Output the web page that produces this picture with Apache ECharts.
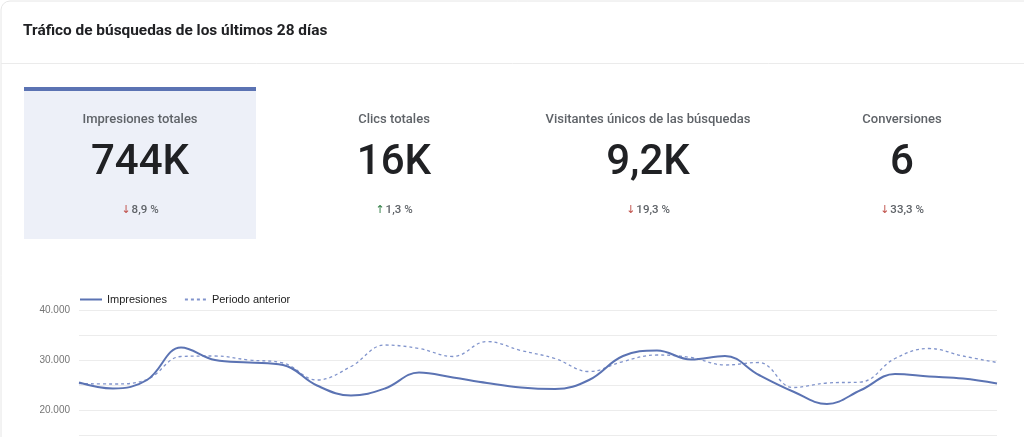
<!DOCTYPE html>
<html><head><meta charset="utf-8">
<script src="https://cdn.jsdelivr.net/npm/echarts@6/dist/echarts.min.js"></script>
<style>html,body{margin:0;padding:0;overflow:hidden;background:#fff}#c{width:1024px;height:540px}</style>
</head><body><div id="c"></div>
<script>
const title = 'Tráfico de búsquedas de los últimos 28 días';
const kpiLabels = ['Impresiones totales', 'Clics totales', 'Visitantes únicos de las búsquedas', 'Conversiones'];
const kpiValues = ['744K', '16K', '9,2K', '6'];
const kpiChanges = ['8,9 %', '1,3 %', '19,3 %', '33,3 %'];
const kpiDirections = ['down', 'up', 'down', 'down'];
const days = ['Día 1','Día 2','Día 3','Día 4','Día 5','Día 6','Día 7','Día 8','Día 9','Día 10','Día 11','Día 12','Día 13','Día 14',
              'Día 15','Día 16','Día 17','Día 18','Día 19','Día 20','Día 21','Día 22','Día 23','Día 24','Día 25','Día 26','Día 27','Día 28'];
const impresiones = [25500, 24300, 26000, 32500, 30000, 29500, 29000, 24900, 22900, 24300, 27500, 26500, 25400, 24500,
                     24200, 26000, 30800, 31900, 30100, 30800, 27000, 23700, 21200, 24000, 27200, 26700, 26300, 25300];
const periodoAnterior = [25300, 25200, 26100, 30700, 30800, 30000, 29400, 26000, 28700, 33000, 32300, 30700, 33700, 31900,
                         30300, 27700, 29700, 31000, 30500, 29000, 29500, 24500, 25400, 25600, 30300, 32300, 30800, 29500];
const yTicks = [0, 10000, 20000, 30000, 40000];

const FONT = 'Roboto, "Noto Sans", sans-serif';
const BLUE = '#5b73b3';

function fmt(v) {
  return String(v).replace(/\B(?=(\d{3})+(?!\d))/g, '.');
}

const graphics = [
  { type: 'rect', shape: { x: 1, y: 1, width: 1100, height: 700, r: 9 }, style: { fill: '#fff', stroke: '#e6e6e6', lineWidth: 1 }, z: -10 },
  { type: 'line', shape: { x1: 1, y1: 63.5, x2: 1024, y2: 63.5 }, style: { stroke: '#ebebeb', lineWidth: 1 }, z: -9 },
  { type: 'text', style: { text: title, x: 23, y: 31, textVerticalAlign: 'middle', font: 'bold 15.4px ' + FONT, fill: '#202124' } }
];

kpiLabels.forEach((lab, i) => {
  const x0 = 24 + 254 * i;
  const cx = x0 + 116;
  if (i === 0) {
    graphics.push({ type: 'rect', shape: { x: x0, y: 87, width: 232, height: 152 }, style: { fill: '#edf0f8' }, z: -5 });
    graphics.push({ type: 'rect', shape: { x: x0, y: 87, width: 232, height: 4 }, style: { fill: BLUE }, z: -4 });
  }
  graphics.push({ type: 'text', style: { text: lab, x: cx, y: 119.5, textAlign: 'center', textVerticalAlign: 'middle', font: '500 13px ' + FONT, fill: '#5f6368' } });
  graphics.push({ type: 'text', style: { text: kpiValues[i], x: cx, y: 163, textAlign: 'center', textVerticalAlign: 'middle', font: '500 42px ' + FONT, fill: '#202124' } });
  const up = kpiDirections[i] === 'up';
  graphics.push({ type: 'text', style: {
    text: '{a|' + (up ? '↑' : '↓') + '}{b|' + kpiChanges[i] + '}',
    x: cx, y: 210, textAlign: 'center', textVerticalAlign: 'middle',
    rich: {
      a: { fill: up ? '#2e7d43' : '#c0504a', fontSize: 11, fontFamily: '"DejaVu Sans", sans-serif', padding: [0, 1, 0, 0] },
      b: { fill: '#5f6368', fontSize: 11.5, fontFamily: FONT, fontWeight: 500 }
    }
  } });
});

const chart = echarts.init(document.getElementById('c'), null, { renderer: 'canvas' });
chart.setOption({
  animation: false,
  graphic: graphics,
  legend: {
    left: 74, top: 289, itemWidth: 22, itemHeight: 10, itemGap: 17,
    itemStyle: { opacity: 0, borderWidth: 0 },
    textStyle: { fontSize: 11, color: '#222', fontFamily: '"Liberation Sans", Arial, sans-serif' },
    data: ['Impresiones', 'Periodo anterior']
  },
  grid: { left: 79, width: 918, top: 310, height: 200, containLabel: false },
  xAxis: {
    type: 'category', data: days, boundaryGap: false,
    axisLine: { show: false }, axisTick: { show: false }, axisLabel: { show: false }
  },
  yAxis: {
    type: 'value', min: yTicks[0], max: yTicks[yTicks.length - 1], interval: 5000,
    axisLine: { show: false }, axisTick: { show: false },
    axisLabel: {
      margin: 9, fontSize: 10, color: '#757575', fontFamily: '"Liberation Sans", Arial, sans-serif',
      formatter: v => (yTicks.indexOf(v) >= 0 ? fmt(v) : '')
    },
    splitLine: { lineStyle: { color: '#ececec', width: 1 } }
  },
  series: [
    { name: 'Impresiones', type: 'line', data: impresiones, smooth: 0.4, showSymbol: false, symbol: 'none',
      lineStyle: { color: BLUE, width: 2 }, itemStyle: { color: BLUE }, z: 3 },
    { name: 'Periodo anterior', type: 'line', data: periodoAnterior, smooth: 0.4, showSymbol: false, symbol: 'none',
      lineStyle: { color: '#8194cc', width: 1.3, type: [3, 3] }, itemStyle: { color: '#8194cc' }, z: 2 }
  ]
});
</script>
</body></html>
